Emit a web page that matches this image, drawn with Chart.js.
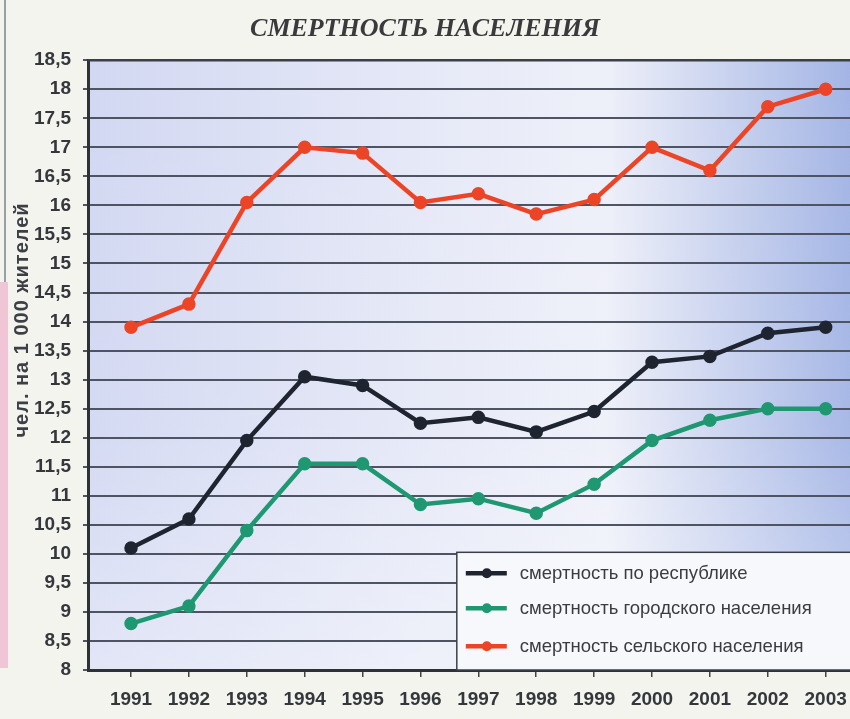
<!DOCTYPE html>
<html>
<head>
<meta charset="utf-8">
<script src="https://cdn.jsdelivr.net/npm/chart.js@4.4.1/dist/chart.umd.min.js"></script>
<style>
  html, body { margin: 0; padding: 0; background: #f4f4ef; }
  #wrap { position: relative; width: 850px; height: 719px; overflow: hidden; }
  #strip { position: absolute; left: 0; top: 282px; width: 8px; height: 386px; background: #f0c6d6; }
  #edge { position: absolute; left: 4px; top: 0; width: 2px; height: 282px; background: #9aa0a0; }
  canvas { position: absolute; left: 0; top: 0; }
</style>
</head>
<body>
<div id="wrap">
  <div id="strip"></div>
  <div id="edge"></div>
  <canvas id="c" width="850" height="719"></canvas>
</div>
<script>
const titleText = 'СМЕРТНОСТЬ НАСЕЛЕНИЯ';
const yAxisTitle = 'чел. на 1 000 жителей';
const years = [1991, 1992, 1993, 1994, 1995, 1996, 1997, 1998, 1999, 2000, 2001, 2002, 2003];
const seriesNames = ['смертность по республике', 'смертность городского населения', 'смертность сельского населения'];
const republic = [10.1, 10.6, 11.95, 13.05, 12.9, 12.25, 12.35, 12.1, 12.45, 13.3, 13.4, 13.8, 13.9];
const urban    = [8.8, 9.1, 10.4, 11.55, 11.55, 10.85, 10.95, 10.7, 11.2, 11.95, 12.3, 12.5, 12.5];
const rural    = [13.9, 14.3, 16.05, 17.0, 16.9, 16.05, 16.2, 15.85, 16.1, 17.0, 16.6, 17.7, 18.0];
const yMin = 8, yMax = 18.5, yStep = 0.5;

const colors = ['#1e2430', '#1f9872', '#ec4426'];
const seriesValues = [republic, urban, rural];

const axisFont = { family: "'Liberation Sans Narrow', 'Liberation Sans', sans-serif", size: 19, weight: 'bold' };

const decorPlugin = {
  id: 'decor',
  beforeDraw(chart) {
    const { ctx, chartArea: a } = chart;
    ctx.save();
    const g = ctx.createLinearGradient(a.left, 0, a.right, 0);
    g.addColorStop(0, '#d2d8f2');
    g.addColorStop(0.45, '#e6e9f7');
    g.addColorStop(0.68, '#eef0f9');
    g.addColorStop(1, '#a4b5e5');
    ctx.fillStyle = g;
    ctx.fillRect(a.left, a.top, a.right - a.left, a.bottom - a.top);
    const g2 = ctx.createLinearGradient(0, a.top, 0, a.bottom);
    g2.addColorStop(0, 'rgba(255,255,255,0)');
    g2.addColorStop(0.6, 'rgba(255,255,255,0.05)');
    g2.addColorStop(1, 'rgba(255,255,255,0.35)');
    ctx.fillStyle = g2;
    ctx.fillRect(a.left, a.top, a.right - a.left, a.bottom - a.top);
    ctx.restore();
  },
  afterDraw(chart) {
    const { ctx, chartArea: a } = chart;
    ctx.save();
    ctx.strokeStyle = '#3a3f4a';
    ctx.lineWidth = 2.5;
    ctx.beginPath();
    ctx.moveTo(a.left, a.top);
    ctx.lineTo(a.right, a.top);
    ctx.stroke();

    // y axis title
    ctx.translate(22, a.top + (a.bottom - a.top) * 0.426);
    ctx.rotate(-Math.PI / 2);
    ctx.fillStyle = '#3c3f44';
    ctx.font = "bold 20px 'Liberation Sans', sans-serif";
    try { ctx.letterSpacing = '1px'; } catch (e) {}
    ctx.textAlign = 'center';
    ctx.textBaseline = 'middle';
    ctx.fillText(yAxisTitle, 0, 0);
    ctx.restore();

    // legend box
    ctx.save();
    const w = a.right - a.left, h = a.bottom - a.top;
    const bx = a.left + w * 0.484, by = a.top + h * 0.807;
    ctx.fillStyle = '#f7f8fb';
    ctx.fillRect(bx, by, a.right + 10 - bx, a.bottom - by);
    ctx.strokeStyle = '#3a3f4a';
    ctx.lineWidth = 1.5;
    ctx.strokeRect(bx, by, a.right + 10 - bx, a.bottom - by);
    const itemY = [by + 21, by + 56, by + 94];
    chart.data.datasets.forEach((ds, i) => {
      const y = itemY[i];
      ctx.strokeStyle = ds.borderColor;
      ctx.lineWidth = 4.5;
      ctx.beginPath();
      ctx.moveTo(bx + 9, y);
      ctx.lineTo(bx + 50, y);
      ctx.stroke();
      ctx.fillStyle = ds.borderColor;
      ctx.beginPath();
      ctx.arc(bx + 30, y, 5, 0, Math.PI * 2);
      ctx.fill();
      ctx.fillStyle = '#3a3c40';
      ctx.font = "18.5px 'Liberation Sans', sans-serif";
      ctx.textAlign = 'left';
      ctx.textBaseline = 'middle';
      ctx.fillText(ds.label, bx + 63, y + 1);
    });
    ctx.restore();
  }
};

const datasets = seriesValues.map((vals, i) => ({
  label: seriesNames[i],
  data: vals.map((v, j) => ({ x: years[j], y: v })),
  borderColor: colors[i],
  backgroundColor: colors[i],
  borderWidth: 4.5,
  pointRadius: 4.5,
  pointHoverRadius: 4.5,
  pointStyle: 'circle',
  tension: 0,
  fill: false
}));

new Chart(document.getElementById('c'), {
  type: 'line',
  data: { datasets },
  plugins: [decorPlugin],
  options: {
    responsive: false,
    animation: false,
    events: [],
    layout: { autoPadding: false, padding: { left: 0, right: 0, top: 0, bottom: 0 } },
    plugins: {
      legend: { display: false },
      tooltip: { enabled: false },
      title: {
        display: true,
        text: titleText,
        color: '#3a3a3c',
        font: { family: "'Liberation Serif', serif", size: 26, weight: 'bold', style: 'italic' },
        padding: { top: 14, bottom: 15 }
      }
    },
    scales: {
      x: {
        type: 'linear',
        min: 1990.257,
        max: 2003.42,
        afterFit(s) { s.height = 49; s.paddingLeft = 0; s.paddingRight = 0; },
        afterBuildTicks(s) { s.ticks = years.map(y => ({ value: y })); },
        ticks: {
          stepSize: 1,
          includeBounds: false,
          autoSkip: false,
          maxRotation: 0,
          color: '#34373b',
          font: axisFont,
          padding: 11,
          callback: v => String(v)
        },
        grid: { display: true, drawOnChartArea: false, drawTicks: true, tickLength: 7, color: '#444', lineWidth: 1.5 },
        border: { display: true, color: '#2e3136', width: 3 }
      },
      y: {
        min: yMin,
        max: yMax,
        afterFit(s) { s.width = 88; s.paddingTop = 0; s.paddingBottom = 0; },
        afterBuildTicks(s) {
          const t = [];
          for (let v = yMin; v <= yMax + 1e-9; v += yStep) t.push({ value: Math.round(v * 10) / 10 });
          s.ticks = t;
        },
        ticks: {
          stepSize: yStep,
          autoSkip: false,
          color: '#34373b',
          font: axisFont,
          padding: 12,
          callback: v => String(v).replace('.', ',')
        },
        grid: { color: '#4f5462', lineWidth: 2, tickLength: 5, drawTicks: true },
        border: { display: true, color: '#2e3136', width: 3 }
      }
    }
  }
});
</script>
</body>
</html>
